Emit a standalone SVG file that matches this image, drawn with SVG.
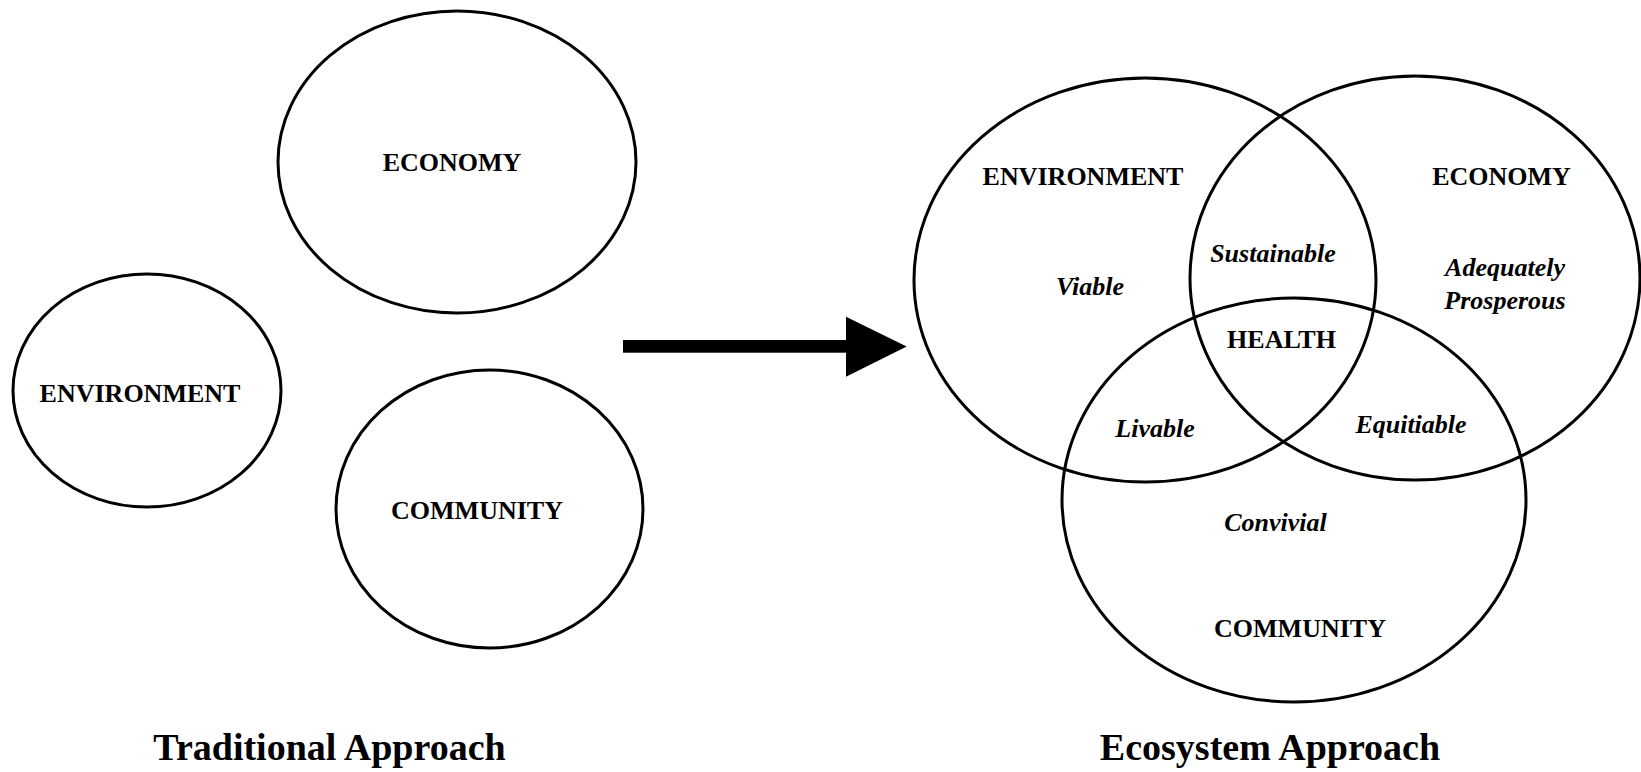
<svg xmlns="http://www.w3.org/2000/svg" width="1641" height="772" viewBox="0 0 1641 772">
<style>
.c{fill:none;stroke:#000;stroke-width:3}
.t{font-family:"Liberation Serif","Times New Roman",serif;font-weight:bold;font-size:26px;text-anchor:middle;fill:#000}
.i{font-style:italic}
.h{font-size:38px}
</style>
<rect width="1641" height="772" fill="#fff"/>
<g id="trad-economy"><ellipse class="c" cx="457" cy="162" rx="179" ry="151"/><text class="t" x="452" y="171">ECONOMY</text></g>
<g id="trad-environment"><ellipse class="c" cx="147" cy="390.5" rx="134" ry="116.5"/><text class="t" x="140" y="402">ENVIRONMENT</text></g>
<g id="trad-community"><ellipse class="c" cx="489.5" cy="509" rx="153.5" ry="139"/><text class="t" x="477" y="519">COMMUNITY</text></g>
<g id="connectors">
<rect x="623" y="340" width="225" height="12.7" fill="#000"/>
<polygon points="846,316.7 906.7,346.5 846,376.7" fill="#000"/>
</g>
<g id="eco-environment"><ellipse class="c" cx="1145" cy="280" rx="231" ry="202"/><text class="t" x="1083" y="185">ENVIRONMENT</text><text class="t i" x="1090" y="295">Viable</text></g>
<g id="eco-economy"><ellipse class="c" cx="1415" cy="278" rx="225" ry="202"/><text class="t" x="1501.5" y="185">ECONOMY</text><text class="t i" x="1505" y="276">Adequately</text><text class="t i" x="1505" y="308.5">Prosperous</text></g>
<g id="eco-community"><ellipse class="c" cx="1294" cy="500" rx="232" ry="202"/><text class="t i" x="1275.5" y="530.5">Convivial</text><text class="t" x="1300" y="637">COMMUNITY</text></g>
<g id="overlaps">
<text class="t i" x="1273" y="262">Sustainable</text>
<text class="t" x="1281.5" y="348.3">HEALTH</text>
<text class="t i" x="1155" y="437">Livable</text>
<text class="t i" x="1411" y="432.5">Equitiable</text>
</g>
<text class="t h" x="329.5" y="760">Traditional Approach</text>
<text class="t h" x="1270" y="760">Ecosystem Approach</text>
</svg>
